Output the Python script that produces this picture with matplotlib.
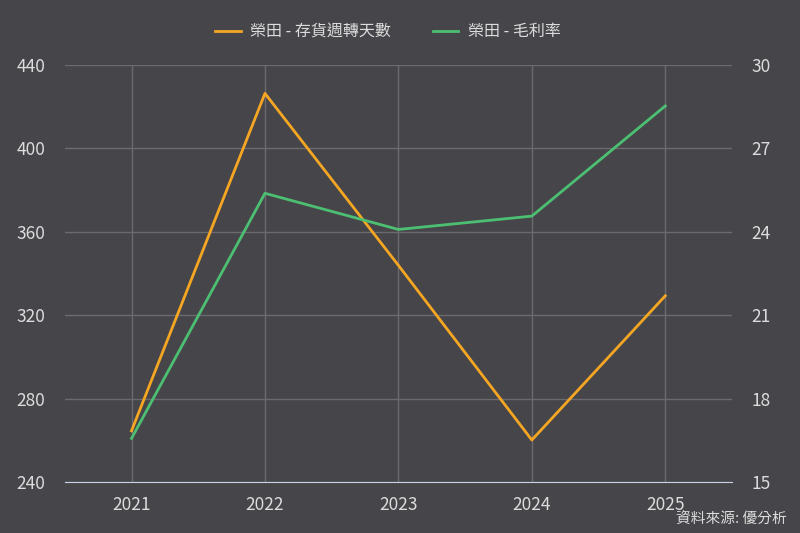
import matplotlib
matplotlib.use("Agg")
import matplotlib.pyplot as plt

plt.rcParams['font.family'] = ['Noto Sans CJK TC', 'DejaVu Sans']

# data
years = ['2021', '2022', '2023', '2024', '2025']
inventory_days = [264.7, 426.4, 344.0, 260.3, 329.4]
gross_margin = [16.58, 25.39, 24.09, 24.57, 28.53]

bg = '#464549'
txt = '#dcdcdc'
grid = '#6b6a6f'
orange = '#f5a623'
green = '#4cbf72'

fig = plt.figure(figsize=(8, 5.33), dpi=100, facecolor=bg)
ax = fig.add_axes([0.081, 0.095, 0.834, 0.783])
ax.set_facecolor(bg)
ax2 = ax.twinx()

x = range(len(years))
l1, = ax.plot(x, inventory_days, color=orange, lw=2, label='榮田 - 存貨週轉天數')
l2, = ax2.plot(x, gross_margin, color=green, lw=2, label='榮田 - 毛利率')

ax.set_xlim(-0.5, 4.5)
ax.set_ylim(240, 440)
ax.set_yticks([240, 280, 320, 360, 400, 440])
ax2.set_ylim(15, 30)
ax2.set_yticks([15, 18, 21, 24, 27, 30])
ax.set_xticks(list(x))
ax.set_xticklabels(years)

ax.grid(True, color=grid, lw=1)
ax.set_axisbelow(True)
for a in (ax, ax2):
    for s in a.spines.values():
        s.set_visible(False)
    a.tick_params(length=0, colors=txt, labelsize=12.5)
ax.spines['bottom'].set_visible(True)
ax.spines['bottom'].set_color('#c8d2e6')
ax.tick_params(axis='y', pad=14)
ax2.tick_params(axis='y', pad=14)
ax.tick_params(axis='x', pad=10)

fig.legend(handles=[l1, l2], loc='center', bbox_to_anchor=(0.485, 0.94), ncol=2,
           frameon=False, fontsize=11.5, labelcolor=txt, handlelength=1.6,
           columnspacing=2.6, handletextpad=0.6)

fig.text(0.983, 0.012, '資料來源: 優分析', color=txt, fontsize=10.6, ha='right', va='bottom')

fig.savefig('out.png', dpi=100, facecolor=bg)
